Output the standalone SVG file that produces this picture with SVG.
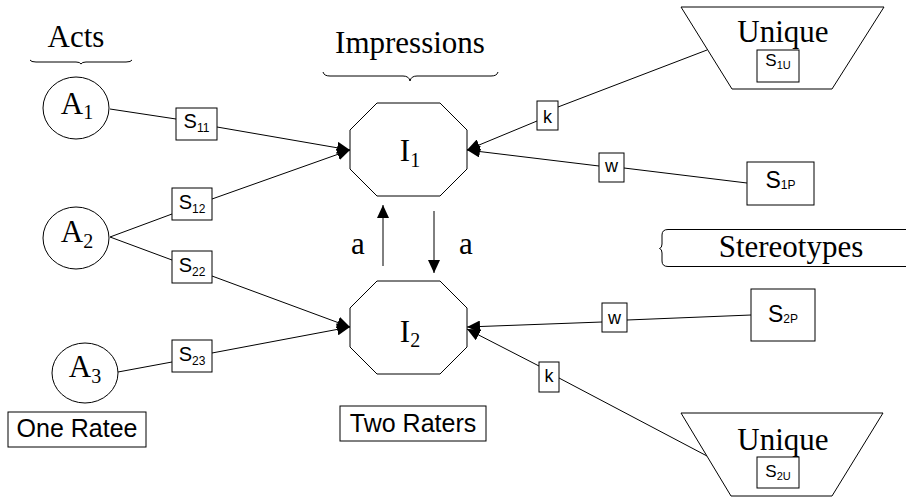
<svg xmlns="http://www.w3.org/2000/svg" width="906" height="497" viewBox="0 0 906 497">
<style>
.shape{fill:#fff;stroke:#000;stroke-width:1}
.ln{fill:none;stroke:#000;stroke-width:1}
.tr{font-family:"Liberation Serif","Times New Roman",serif;fill:#000}
.big{font-size:31px}
.sub{font-size:20px}
.ar{font-family:"Liberation Sans",Arial,sans-serif;fill:#000}
.s{font-size:20px}
.ss{font-size:12px}
.lab{font-size:25px}
.kw{font-size:18px}
</style>
<defs>
<marker id="ah" markerUnits="userSpaceOnUse" markerWidth="14" markerHeight="12" viewBox="0 0 14 12" refX="13" refY="6" orient="auto">
<path d="M0,0 L13,6 L0,12 Z" fill="#000"/>
</marker>
</defs>
<rect width="906" height="497" fill="#fff"/>

<g id="titles">
<text class="tr big" x="76" y="47" text-anchor="middle">Acts</text>
<path class="ln" d="M30,60 Q31,62 36,62 H76 Q80,62 81,64 Q82,62 86,62 H126 Q131,62 132,60"/>
<text class="tr big" x="410" y="53" text-anchor="middle">Impressions</text>
<path class="ln" d="M323,72 Q324,76 330,76 H403 Q409,76 410,81 Q411,76 417,76 H491 Q497,76 498,72"/>
</g>

<g id="connectors">
<line class="ln" x1="110" y1="109" x2="176" y2="119"/>
<line class="ln" x1="217" y1="127" x2="350" y2="150" marker-end="url(#ah)"/>
<line class="ln" x1="110" y1="237" x2="172" y2="214"/>
<line class="ln" x1="212" y1="199" x2="350" y2="150" marker-end="url(#ah)"/>
<line class="ln" x1="110" y1="237" x2="172" y2="260"/>
<line class="ln" x1="212" y1="276" x2="350" y2="327" marker-end="url(#ah)"/>
<line class="ln" x1="118" y1="372" x2="172" y2="362"/>
<line class="ln" x1="212" y1="353" x2="350" y2="327" marker-end="url(#ah)"/>
<line class="ln" x1="707" y1="50" x2="558" y2="107"/>
<line class="ln" x1="537" y1="121" x2="467" y2="150" marker-end="url(#ah)"/>
<line class="ln" x1="747" y1="183" x2="624" y2="168"/>
<line class="ln" x1="599" y1="166" x2="467" y2="150" marker-end="url(#ah)"/>
<line class="ln" x1="751" y1="315" x2="627" y2="320"/>
<line class="ln" x1="602" y1="322" x2="467" y2="327" marker-end="url(#ah)"/>
<line class="ln" x1="707" y1="456" x2="559" y2="378"/>
<line class="ln" x1="539" y1="366" x2="467" y2="329" marker-end="url(#ah)"/>
<line class="ln" x1="383" y1="266" x2="383" y2="205" marker-end="url(#ah)"/>
<line class="ln" x1="434" y1="211" x2="434" y2="273" marker-end="url(#ah)"/>
<text class="tr big" x="358" y="254" text-anchor="middle">a</text>
<text class="tr big" x="466" y="254" text-anchor="middle">a</text>
</g>

<g id="A1">
<ellipse class="shape" cx="76" cy="108" rx="33" ry="31"/>
<text class="tr" x="77" y="114" text-anchor="middle"><tspan class="big">A</tspan><tspan class="sub" dy="5">1</tspan></text>
</g>
<g id="A2">
<ellipse class="shape" cx="76" cy="238" rx="33" ry="31"/>
<text class="tr" x="77" y="242" text-anchor="middle"><tspan class="big">A</tspan><tspan class="sub" dy="6">2</tspan></text>
</g>
<g id="A3">
<ellipse class="shape" cx="85" cy="373" rx="33" ry="30"/>
<text class="tr" x="85" y="377" text-anchor="middle"><tspan class="big">A</tspan><tspan class="sub" dy="6">3</tspan></text>
</g>

<g id="S11">
<rect class="shape" x="176" y="108" width="41" height="32"/>
<text class="ar" x="196.5" y="128" text-anchor="middle"><tspan class="s">S</tspan><tspan class="ss" dy="3.5">11</tspan></text>
</g>
<g id="S12">
<rect class="shape" x="172" y="188" width="40" height="32"/>
<text class="ar" x="192" y="209" text-anchor="middle"><tspan class="s">S</tspan><tspan class="ss" dy="4">12</tspan></text>
</g>
<g id="S22">
<rect class="shape" x="172" y="251" width="40" height="32"/>
<text class="ar" x="192" y="272" text-anchor="middle"><tspan class="s">S</tspan><tspan class="ss" dy="4">22</tspan></text>
</g>
<g id="S23">
<rect class="shape" x="172" y="340" width="40" height="32"/>
<text class="ar" x="192" y="361" text-anchor="middle"><tspan class="s">S</tspan><tspan class="ss" dy="4">23</tspan></text>
</g>

<g id="I1">
<polygon class="shape" points="377,103 440,103 467,130 467,169 440,196 377,196 350,169 350,130"/>
<text class="tr" x="410" y="161" text-anchor="middle"><tspan class="big">I</tspan><tspan class="sub" dy="6">1</tspan></text>
</g>
<g id="I2">
<polygon class="shape" points="377,281 440,281 467,308 467,347 440,374 377,374 350,347 350,308"/>
<text class="tr" x="410" y="342" text-anchor="middle"><tspan class="big">I</tspan><tspan class="sub" dy="5">2</tspan></text>
</g>

<g id="k1">
<rect class="shape" x="537" y="101" width="21" height="29"/>
<text class="ar kw" x="547.5" y="122.5" text-anchor="middle">k</text>
</g>
<g id="w1">
<rect class="shape" x="599" y="153" width="25" height="29"/>
<text class="ar kw" x="611.5" y="172" text-anchor="middle">w</text>
</g>
<g id="w2">
<rect class="shape" x="602" y="303" width="25" height="29"/>
<text class="ar kw" x="614.5" y="324" text-anchor="middle">w</text>
</g>
<g id="k2">
<rect class="shape" x="539" y="362" width="20" height="30"/>
<text class="ar kw" x="549" y="382" text-anchor="middle">k</text>
</g>

<g id="Unique1">
<polygon class="shape" points="681,7 884,7 832,89 732,89"/>
<text class="tr big" x="783" y="42" text-anchor="middle">Unique</text>
<rect class="shape" x="757" y="50" width="42" height="32"/>
<text class="ar" x="778" y="66" text-anchor="middle"><tspan class="s" style="font-size:17px">S</tspan><tspan class="ss" style="font-size:11px" dy="2.5">1U</tspan></text>
</g>
<g id="S1P">
<rect class="shape" x="747" y="162" width="67" height="43"/>
<text class="ar" x="780.5" y="188" text-anchor="middle"><tspan class="s" style="font-size:23px">S</tspan><tspan class="ss" dy="1">1P</tspan></text>
</g>
<g id="Stereotypes">
<path class="ln" d="M906,229.5 H668 Q662,229.5 662,235 V244 Q662,248 659.5,248.5 Q662,249 662,253 V261 Q662,266.5 668,266.5 H906"/>
<text class="tr big" x="791" y="257" text-anchor="middle">Stereotypes</text>
</g>
<g id="S2P">
<rect class="shape" x="751" y="289" width="64" height="52"/>
<text class="ar" x="783" y="322" text-anchor="middle"><tspan class="s" style="font-size:23px">S</tspan><tspan class="ss" dy="1">2P</tspan></text>
</g>
<g id="Unique2">
<polygon class="shape" points="681,413 883,413 832,496 731,496"/>
<text class="tr big" x="783" y="450" text-anchor="middle">Unique</text>
<rect class="shape" x="757" y="457" width="42" height="31"/>
<text class="ar" x="778" y="477" text-anchor="middle"><tspan class="s" style="font-size:17px">S</tspan><tspan class="ss" style="font-size:11px" dy="2.5">2U</tspan></text>
</g>

<g id="OneRatee">
<rect class="shape" x="8" y="412" width="138" height="35"/>
<text class="ar lab" x="77" y="437" text-anchor="middle">One Ratee</text>
</g>
<g id="TwoRaters">
<rect class="shape" x="340" y="406" width="146" height="35"/>
<text class="ar lab" x="413" y="432" text-anchor="middle">Two Raters</text>
</g>
</svg>
